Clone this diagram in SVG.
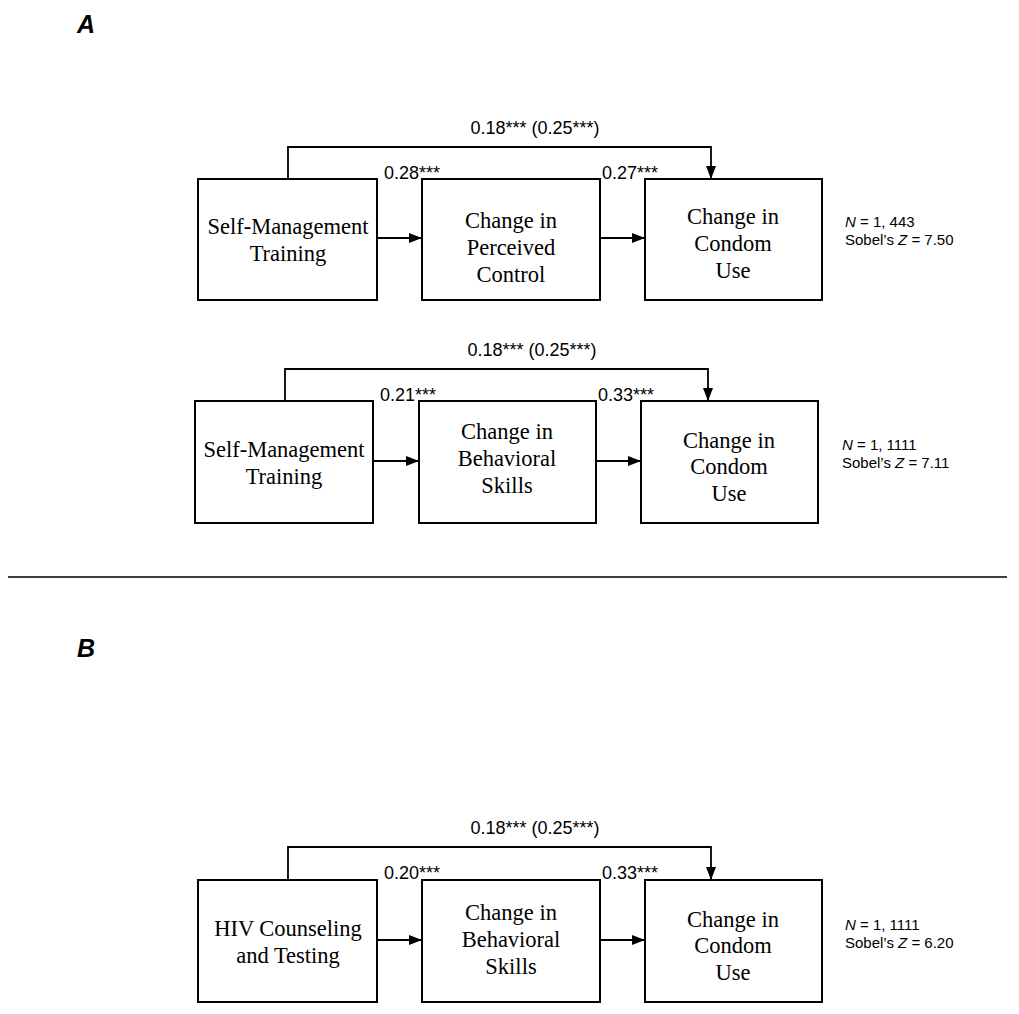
<svg xmlns="http://www.w3.org/2000/svg" width="1019" height="1014" viewBox="0 0 1019 1014">
<defs>
<marker id="ah" viewBox="0 0 13 10" refX="13" refY="5" markerWidth="13" markerHeight="10" markerUnits="userSpaceOnUse" orient="auto">
<path d="M0,0 L13,5 L0,10 Z" fill="#000"/>
</marker>
<style>
.box{fill:#fff;stroke:#000;stroke-width:2}
.t{font-family:"Liberation Serif","Times New Roman",serif;font-size:22.5px;text-anchor:middle;fill:#000}
.c{font-family:"Liberation Sans",Arial,sans-serif;font-size:18px;fill:#000}
.n{font-family:"Liberation Sans",Arial,sans-serif;font-size:15px;fill:#000}
.p{font-family:"Liberation Sans",Arial,sans-serif;font-size:25px;font-weight:bold;font-style:italic;fill:#000}
.ln{fill:none;stroke:#000;stroke-width:1.8}
</style>
</defs>
<rect width="1019" height="1014" fill="#fff"/>
<text class="p" x="77" y="33">A</text>
<text class="p" x="77" y="657">B</text>
<line x1="8" y1="577" x2="1007" y2="577" stroke="#000" stroke-width="1.5"/>

<g id="connectors">
<polyline class="ln" points="288,179 288,147 711,147 711,179" marker-end="url(#ah)"/>
<line class="ln" x1="377" y1="238" x2="422" y2="238" marker-end="url(#ah)"/>
<line class="ln" x1="600" y1="238" x2="645" y2="238" marker-end="url(#ah)"/>
<polyline class="ln" points="285,401 285,369 708,369 708,401" marker-end="url(#ah)"/>
<line class="ln" x1="373" y1="461" x2="419" y2="461" marker-end="url(#ah)"/>
<line class="ln" x1="596" y1="461" x2="641" y2="461" marker-end="url(#ah)"/>
<polyline class="ln" points="288,880 288,847 711,847 711,880" marker-end="url(#ah)"/>
<line class="ln" x1="377" y1="940" x2="422" y2="940" marker-end="url(#ah)"/>
<line class="ln" x1="600" y1="940" x2="645" y2="940" marker-end="url(#ah)"/>
<text class="c" x="535" y="134" text-anchor="middle">0.18*** (0.25***)</text>
<text class="c" x="384" y="179">0.28***</text>
<text class="c" x="602" y="179">0.27***</text>
<text class="c" x="532" y="356" text-anchor="middle">0.18*** (0.25***)</text>
<text class="c" x="380" y="401">0.21***</text>
<text class="c" x="598" y="401">0.33***</text>
<text class="c" x="535" y="834" text-anchor="middle">0.18*** (0.25***)</text>
<text class="c" x="384" y="879">0.20***</text>
<text class="c" x="602" y="879">0.33***</text>
</g>

<g id="a1-smt"><rect class="box" x="198" y="179" width="179" height="121"/>
<text class="t" x="288" y="234">Self-Management</text><text class="t" x="288" y="261">Training</text></g>
<g id="a1-pc"><rect class="box" x="422" y="179" width="178" height="121"/>
<text class="t" x="511" y="228">Change in</text><text class="t" x="511" y="255">Perceived</text><text class="t" x="511" y="282">Control</text></g>
<g id="a1-cu"><rect class="box" x="645" y="179" width="177" height="121"/>
<text class="t" x="733" y="224">Change in</text><text class="t" x="733" y="251">Condom</text><text class="t" x="733" y="278">Use</text></g>
<g id="a1-stats"><text class="n" x="845" y="227"><tspan font-style="italic">N</tspan> = 1, 443</text>
<text class="n" x="845" y="245">Sobel’s <tspan font-style="italic">Z</tspan> = 7.50</text></g>

<g id="a2-smt"><rect class="box" x="195" y="401" width="178" height="122"/>
<text class="t" x="284" y="457">Self-Management</text><text class="t" x="284" y="484">Training</text></g>
<g id="a2-bs"><rect class="box" x="419" y="401" width="177" height="122"/>
<text class="t" x="507" y="439">Change in</text><text class="t" x="507" y="466">Behavioral</text><text class="t" x="507" y="493">Skills</text></g>
<g id="a2-cu"><rect class="box" x="641" y="401" width="177" height="122"/>
<text class="t" x="729" y="448">Change in</text><text class="t" x="729" y="474">Condom</text><text class="t" x="729" y="501">Use</text></g>
<g id="a2-stats"><text class="n" x="842" y="450"><tspan font-style="italic">N</tspan> = 1, 1111</text>
<text class="n" x="842" y="468">Sobel’s <tspan font-style="italic">Z</tspan> = 7.11</text></g>

<g id="b-hct"><rect class="box" x="198" y="880" width="179" height="122"/>
<text class="t" x="288" y="936">HIV Counseling</text><text class="t" x="288" y="963">and Testing</text></g>
<g id="b-bs"><rect class="box" x="422" y="880" width="178" height="122"/>
<text class="t" x="511" y="920">Change in</text><text class="t" x="511" y="947">Behavioral</text><text class="t" x="511" y="974">Skills</text></g>
<g id="b-cu"><rect class="box" x="645" y="880" width="177" height="122"/>
<text class="t" x="733" y="927">Change in</text><text class="t" x="733" y="953">Condom</text><text class="t" x="733" y="980">Use</text></g>
<g id="b-stats"><text class="n" x="845" y="930"><tspan font-style="italic">N</tspan> = 1, 1111</text>
<text class="n" x="845" y="948">Sobel’s <tspan font-style="italic">Z</tspan> = 6.20</text></g>
</svg>
